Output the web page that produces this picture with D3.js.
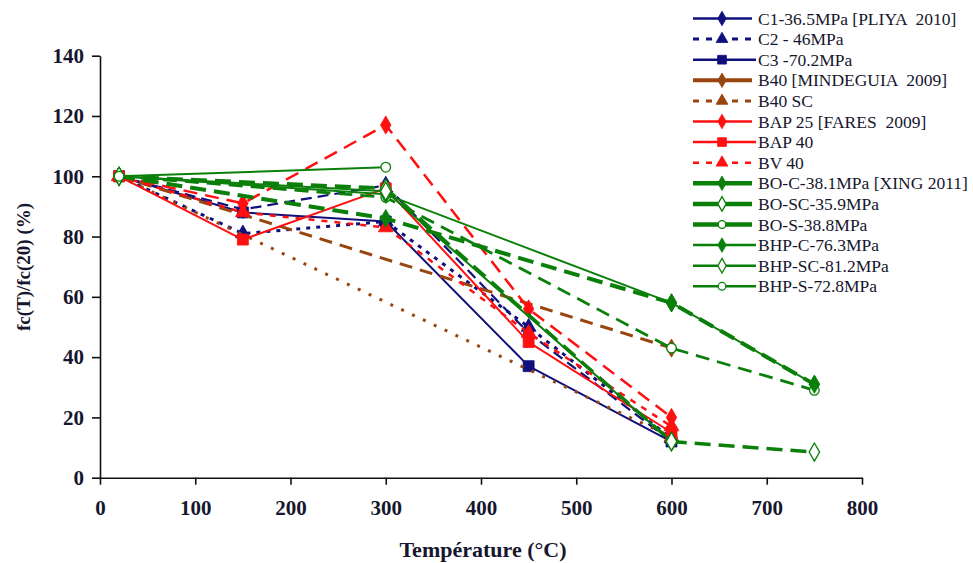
<!DOCTYPE html>
<html>
<head>
<meta charset="utf-8">
<script src="https://cdn.jsdelivr.net/npm/d3@7"></script>
<style>
  html, body { margin: 0; padding: 0; background: #fff; }
  svg { display: block; }
  text { font-family: "Liberation Serif", "DejaVu Serif", serif; fill: #16162e; white-space: pre; }
</style>
</head>
<body>
<svg id="chart" width="973" height="563"></svg>
<script>
// Residual compressive strength ratio fc(T)/fc(20) versus temperature

const xTicks = [0, 100, 200, 300, 400, 500, 600, 700, 800];
const yTicks = [0, 20, 40, 60, 80, 100, 120, 140];

// PLIYA 2010
const pliyaTemps = [20, 150, 300, 450, 600];
const c1Values = [100, 89, 97, 48, 12];
const c2Values = [100, 81, 85, 50, 13];
const c3Values = [100, 88, 85, 37, 12];

// MINDEGUIA 2009
const mindeguiaTemps = [20, 600];
const b40Values = [100, 43];
const b40scValues = [100, 13.5];

// FARES 2009
const faresTemps = [20, 150, 300, 450, 600];
const bap25Values = [100, 91, 117, 56, 20];
const bap40Values = [100, 79, 96, 45, 15];
const bv40Values = [100, 88, 83, 48, 17];

// XING 2011
const xingTemps = [20, 300, 600, 750];
const boCValues = [100, 86, 58, 31];
const boSCValues = [100, 96, 12, 8.5];
const boSValues = [100, 93, 43, 29];
const bhpCValues = [100, 94, 58, 31];
const bhpSCTemps = [20, 300, 600];
const bhpSCValues = [100, 95, 12];
const bhpSTemps = [20, 300];
const bhpSValues = [100, 103];

const navy = "#10107c", brown = "#99450f", red = "#ff1010", green = "#0a7f0a";

const series = [
  { name: "C1-36.5MPa [PLIYA  2010]", t: pliyaTemps, v: c1Values, color: navy, width: 2.2, dash: "11,6", legendDash: null, marker: "diamond", fill: true },
  { name: "C2 - 46MPa", t: pliyaTemps, v: c2Values, color: navy, width: 3, dash: "4,6", legendDash: "6,7", marker: "triangle", fill: true },
  { name: "C3 -70.2MPa", t: pliyaTemps, v: c3Values, color: navy, width: 2, dash: null, legendDash: null, marker: "square", fill: true, long: true },
  { name: "B40 [MINDEGUIA  2009]", t: mindeguiaTemps, v: b40Values, color: brown, width: 3, dash: "13,8", legendDash: null, legendWidth: 4, marker: "diamond", fill: true },
  { name: "B40 SC", t: mindeguiaTemps, v: b40scValues, color: brown, width: 3, dash: "3,9", legendDash: "6,7", marker: "triangle", fill: true },
  { name: "BAP 25 [FARES  2009]", t: faresTemps, v: bap25Values, color: red, width: 2.5, dash: "14,8", legendDash: null, marker: "diamond", fill: true },
  { name: "BAP 40", t: faresTemps, v: bap40Values, color: red, width: 2, dash: null, legendDash: null, marker: "square", fill: true, long: true },
  { name: "BV 40", t: faresTemps, v: bv40Values, color: red, width: 2.5, dash: "6,7", legendDash: "6,7", marker: "triangle", fill: true },
  { name: "BO-C-38.1MPa [XING 2011]", t: xingTemps, v: boCValues, color: green, width: 4, dash: "16,8", legendDash: null, legendWidth: 4.5, marker: "diamond", fill: true },
  { name: "BO-SC-35.9MPa", t: xingTemps, v: boSCValues, color: green, width: 3.5, dash: "16,8", legendDash: null, legendWidth: 4.5, marker: "diamond", fill: false },
  { name: "BO-S-38.8MPa", t: xingTemps, v: boSValues, color: green, width: 2.8, dash: "14,8", legendDash: null, legendWidth: 4.5, marker: "circle", fill: false },
  { name: "BHP-C-76.3MPa", t: xingTemps, v: bhpCValues, color: green, width: 2, dash: null, legendDash: null, marker: "diamond", fill: true, long: true },
  { name: "BHP-SC-81.2MPa", t: bhpSCTemps, v: bhpSCValues, color: green, width: 2, dash: null, legendDash: null, marker: "diamond", fill: false, long: true },
  { name: "BHP-S-72.8MPa", t: bhpSTemps, v: bhpSValues, color: green, width: 2, dash: null, legendDash: null, marker: "circle", fill: false, long: true }
];

const svg = d3.select("#chart");

const x = d3.scaleLinear().domain([0, 800]).range([100, 862]);
const y = d3.scaleLinear().domain([0, 140]).range([477.7, 55.7]);

// Axes
const xAxis = svg.append("g").attr("transform", `translate(0,${y(0)})`)
  .call(d3.axisBottom(x).tickValues(xTicks).tickSize(7).tickSizeOuter(0).tickPadding(15));
const yAxis = svg.append("g").attr("transform", `translate(${x(0)},0)`)
  .call(d3.axisLeft(y).tickValues(yTicks).tickSize(8).tickSizeOuter(0).tickPadding(8));

[xAxis, yAxis].forEach(g => {
  g.select(".domain").attr("stroke", "#111").attr("stroke-width", 1.6);
  g.selectAll(".tick line").attr("stroke", "#111").attr("stroke-width", 1.6);
  g.selectAll(".tick text")
    .attr("fill", "#16162e")
    .style("font-family", "'Liberation Serif', serif")
    .style("font-weight", "bold")
    .style("font-size", "21px");
});

// Axis titles
svg.append("text")
  .attr("x", 483).attr("y", 557)
  .attr("text-anchor", "middle")
  .style("font-weight", "bold").style("font-size", "22px")
  .text("Température (°C)");

svg.append("text")
  .attr("transform", "translate(30,267) rotate(-90)")
  .attr("text-anchor", "middle")
  .style("font-weight", "bold").style("font-size", "19px")
  .text("fc(T)/fc(20) (%)");

// Marker shapes
const symbolType = {
  diamond: d3.symbolDiamond,
  triangle: d3.symbolTriangle,
  square: d3.symbolSquare
};
function drawMarker(g, s, cx, cy, scale) {
  const k = scale || 1;
  if (s.marker === "circle") {
    g.append("circle")
      .attr("cx", cx).attr("cy", cy).attr("r", 4.8 * k)
      .attr("fill", s.fill ? s.color : "#fff")
      .attr("stroke", s.color).attr("stroke-width", 1.3);
  } else {
    const size = { diamond: 95, triangle: 95, square: 120 }[s.marker] * k * k;
    g.append("path")
      .attr("transform", `translate(${cx},${cy})`)
      .attr("d", d3.symbol().type(symbolType[s.marker]).size(size)())
      .attr("fill", s.fill ? s.color : "#fff")
      .attr("stroke", s.color).attr("stroke-width", s.fill ? 0.8 : 1.3);
  }
}

// Series lines and markers
const line = d3.line().x(d => x(d[0])).y(d => y(d[1]));
const plot = svg.append("g");
series.forEach(s => {
  const pts = s.t.map((t, i) => [t, s.v[i]]);
  const g = plot.append("g");
  g.append("path")
    .attr("d", line(pts))
    .attr("fill", "none")
    .attr("stroke", s.color)
    .attr("stroke-width", s.width)
    .attr("stroke-dasharray", s.dash)
    .attr("stroke-linejoin", "round");
  pts.forEach(p => drawMarker(g, s, x(p[0]), y(p[1])));
});

// Legend
const legend = svg.append("g");
series.forEach((s, i) => {
  const ly = 18.5 + i * 20.6;
  const g = legend.append("g");
  g.append("line")
    .attr("x1", 693).attr("x2", s.long ? 756 : 752)
    .attr("y1", ly).attr("y2", ly)
    .attr("stroke", s.color)
    .attr("stroke-width", s.legendWidth || Math.max(s.width, 2.5))
    .attr("stroke-dasharray", s.legendDash);
  drawMarker(g, s, 722, ly, 0.8);
  g.append("text")
    .attr("x", 758).attr("y", ly + 6)
    .style("font-size", "17.5px")
    .text(s.name);
});
</script>
</body>
</html>
